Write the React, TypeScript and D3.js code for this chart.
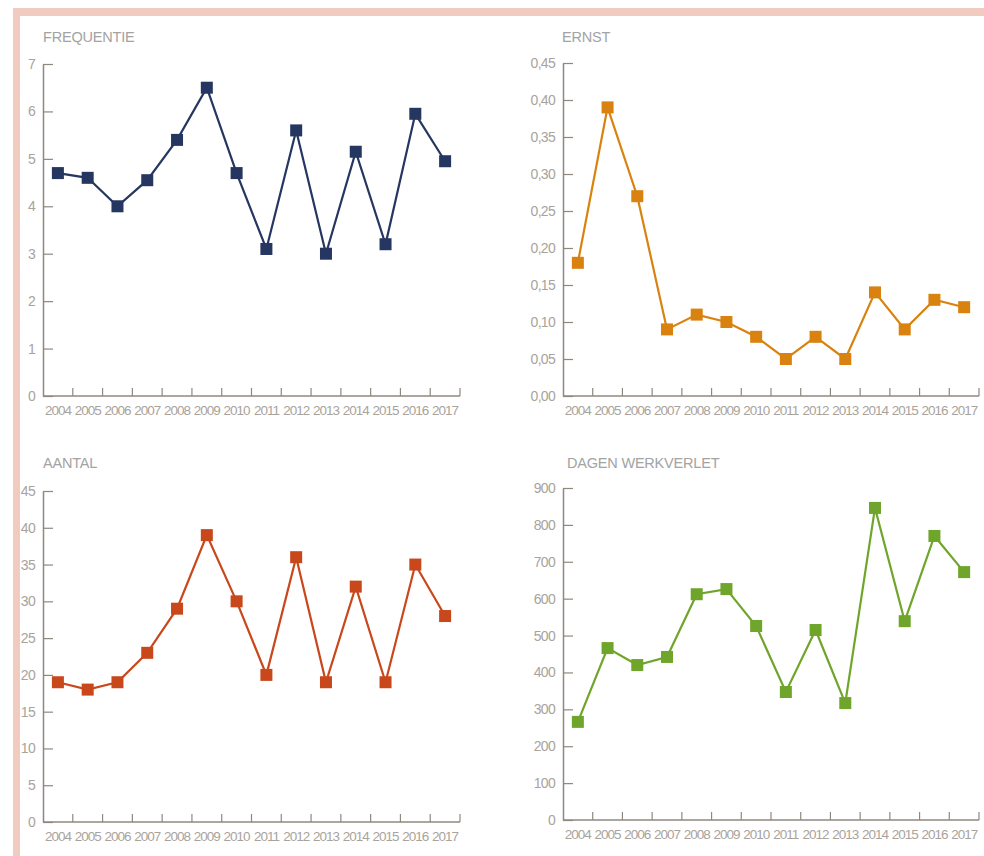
import React, { useEffect, useRef } from 'react';
import * as d3 from 'd3';

const years = ['2004', '2005', '2006', '2007', '2008', '2009', '2010', '2011', '2012', '2013', '2014', '2015', '2016', '2017'];

const frequentie = [4.7, 4.6, 4.0, 4.55, 5.4, 6.5, 4.7, 3.1, 5.6, 3.0, 5.15, 3.2, 5.95, 4.95];
const ernst = [0.18, 0.39, 0.27, 0.09, 0.11, 0.10, 0.08, 0.05, 0.08, 0.05, 0.14, 0.09, 0.13, 0.12];
const aantal = [19, 18, 19, 23, 29, 39, 30, 20, 36, 19, 32, 19, 35, 28];
const dagenWerkverlet = [266, 466, 420, 442, 612, 626, 526, 347, 515, 317, 846, 539, 770, 672];

const frequentieTicks = [0, 1, 2, 3, 4, 5, 6, 7];
const ernstTicks = [0, 0.05, 0.1, 0.15, 0.2, 0.25, 0.3, 0.35, 0.4, 0.45];
const aantalTicks = [0, 5, 10, 15, 20, 25, 30, 35, 40, 45];
const dagenTicks = [0, 100, 200, 300, 400, 500, 600, 700, 800, 900];

const axisColor = '#8f887f';
const labelColor = '#a9a39b';
const titleColor = '#a3a3a3';
const font = '"Liberation Sans", Arial, sans-serif';

interface Panel {
  title: string;
  values: number[];
  ticks: number[];
  fmt: (v: number) => string;
  color: string;
  left: number;
  right: number;
  top: number;
  bottom: number;
  titleX: number;
  titleY: number;
}

const panels: Panel[] = [
  { title: 'FREQUENTIE', values: frequentie, ticks: frequentieTicks, fmt: (v) => String(v), color: '#253661',
    left: 43, right: 460, top: 64, bottom: 396, titleX: 43, titleY: 42 },
  { title: 'ERNST', values: ernst, ticks: ernstTicks, fmt: (v) => v.toFixed(2).replace('.', ','), color: '#d9820f',
    left: 563, right: 979, top: 63, bottom: 396, titleX: 562, titleY: 42 },
  { title: 'AANTAL', values: aantal, ticks: aantalTicks, fmt: (v) => String(v), color: '#c8471b',
    left: 43, right: 460, top: 491, bottom: 822, titleX: 43, titleY: 468 },
  { title: 'DAGEN WERKVERLET', values: dagenWerkverlet, ticks: dagenTicks, fmt: (v) => String(v), color: '#6fa52b',
    left: 563, right: 979, top: 488, bottom: 820, titleX: 567, titleY: 468 },
];

const App: React.FC = () => {
  const svgRef = useRef<SVGSVGElement | null>(null);

  useEffect(() => {
    const svgEl = svgRef.current;
    if (!svgEl) return;
    const svg = d3.select(svgEl);
    svg.selectAll('*').remove();

    // pink frame
    svg.append('rect').attr('x', 13).attr('y', 8).attr('width', 971).attr('height', 8).attr('fill', '#f1cbbf');
    svg.append('rect').attr('x', 13).attr('y', 8).attr('width', 7).attr('height', 848).attr('fill', '#f1cbbf');

    panels.forEach((p) => {
      const g = svg.append('g');
      const x = d3.scaleBand<string>().domain(years).range([p.left, p.right]);
      const y = d3.scaleLinear()
        .domain([0, p.ticks[p.ticks.length - 1]])
        .range([p.bottom, p.top]);

      g.append('text')
        .attr('x', p.titleX).attr('y', p.titleY)
        .attr('font-family', font).attr('font-size', 14.5).attr('letter-spacing', -0.2)
        .attr('fill', titleColor)
        .text(p.title);

      // y axis
      const yAxis = g.append('g')
        .attr('transform', `translate(${p.left},0)`)
        .call(d3.axisLeft(y).tickValues(p.ticks).tickFormat((d) => p.fmt(+d)).tickSizeInner(-10).tickSizeOuter(0).tickPadding(8));
      yAxis.select('.domain').attr('stroke', axisColor).attr('stroke-width', 1.5);
      yAxis.selectAll('.tick line').attr('stroke', axisColor).attr('stroke-width', 1.2);
      yAxis.selectAll('.tick text')
        .attr('fill', labelColor).attr('font-family', font).attr('font-size', 14).attr('letter-spacing', -0.7);

      // x axis
      const xAxis = g.append('g')
        .attr('transform', `translate(0,${p.bottom})`)
        .call(d3.axisBottom(x).tickSize(0).tickPadding(9));
      xAxis.select('.domain').remove();
      xAxis.selectAll('.tick text')
        .attr('fill', labelColor).attr('font-family', font).attr('font-size', 13.5).attr('letter-spacing', -1);

      g.append('line')
        .attr('x1', p.left).attr('x2', p.right).attr('y1', p.bottom).attr('y2', p.bottom)
        .attr('stroke', axisColor).attr('stroke-width', 1.5);
      const bounds = years.slice(1).map((d) => x(d) as number).concat([p.right]);
      g.selectAll('line.xt').data(bounds).enter().append('line')
        .attr('class', 'xt')
        .attr('x1', (d) => d).attr('x2', (d) => d)
        .attr('y1', p.bottom).attr('y2', p.bottom - 8)
        .attr('stroke', axisColor).attr('stroke-width', 1.2);

      // line + markers
      const cx = (i: number) => (x(years[i]) as number) + x.bandwidth() / 2;
      const line = d3.line<number>().x((_, i) => cx(i)).y((d) => y(d));
      g.append('path')
        .datum(p.values)
        .attr('d', line)
        .attr('fill', 'none')
        .attr('stroke', p.color)
        .attr('stroke-width', 2.2);

      const s = 12;
      g.selectAll('rect.pt').data(p.values).enter().append('rect')
        .attr('class', 'pt')
        .attr('x', (_, i) => cx(i) - s / 2)
        .attr('y', (d) => y(d) - s / 2)
        .attr('width', s).attr('height', s)
        .attr('fill', p.color);
    });
  }, []);

  return (
    <svg
      ref={svgRef}
      width={984}
      height={856}
      style={{ position: 'absolute', left: 0, top: 0, background: '#fff' }}
    />
  );
};

export default App;
